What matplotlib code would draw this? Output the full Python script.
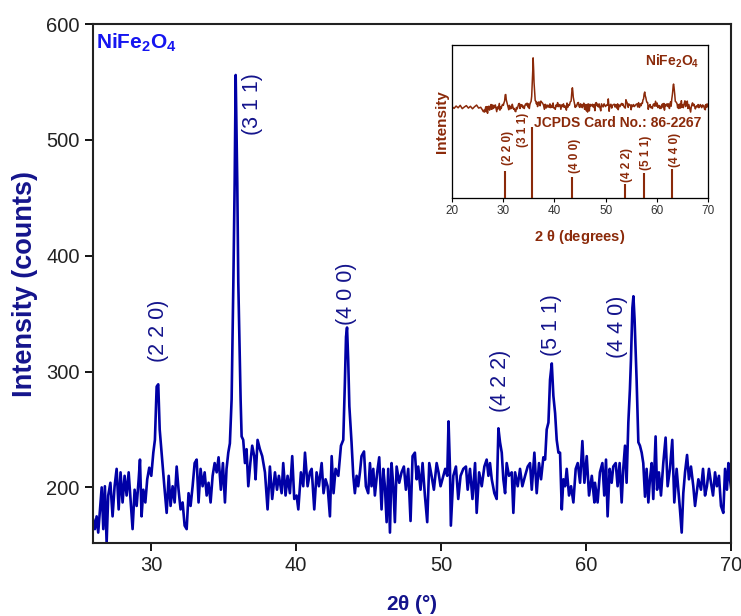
import matplotlib
matplotlib.use("Agg")
import matplotlib.pyplot as plt
import numpy as np

plt.rcParams.update({
    "font.family": ["Liberation Sans", "DejaVu Sans"],
    "mathtext.fontset": "custom",
    "mathtext.rm": "Liberation Sans",
    "mathtext.bf": "Liberation Sans:bold",
})

# XRD trace (2theta in degrees, counts)
two_theta = [
    26.02, 26.13, 26.25, 26.36, 26.48, 26.60, 26.71, 26.82, 26.94, 27.05,
    27.20, 27.35, 27.49, 27.63, 27.77, 27.90, 28.04, 28.18, 28.32, 28.46,
    28.60, 28.73, 28.87, 29.01, 29.15, 29.24, 29.35, 29.47, 29.61, 29.74,
    29.88, 30.02, 30.16, 30.27, 30.39, 30.50, 30.60, 30.69, 30.80, 30.92,
    31.08, 31.22, 31.35, 31.49, 31.63, 31.77, 31.90, 32.04, 32.18, 32.32,
    32.46, 32.59, 32.73, 32.87, 33.01, 33.15, 33.28, 33.42, 33.56, 33.70,
    33.84, 33.97, 34.11, 34.25, 34.39, 34.53, 34.66, 34.82, 34.96, 35.10,
    35.21, 35.33, 35.44, 35.56, 35.68, 35.77, 35.84, 35.95, 36.02, 36.18,
    36.25, 36.36, 36.48, 36.59, 36.71, 36.85, 36.98, 37.12, 37.21, 37.35,
    37.51, 37.67, 37.86, 38.04, 38.20, 38.36, 38.55, 38.69, 38.82, 39.01,
    39.12, 39.28, 39.42, 39.58, 39.74, 39.88, 40.04, 40.16, 40.34, 40.50,
    40.62, 40.80, 40.96, 41.08, 41.26, 41.42, 41.58, 41.77, 41.90, 42.04,
    42.18, 42.34, 42.46, 42.59, 42.73, 42.92, 43.10, 43.26, 43.37, 43.45,
    43.52, 43.60, 43.68, 43.83, 43.95, 44.06, 44.18, 44.29, 44.41, 44.52,
    44.69, 44.82, 44.98, 45.10, 45.21, 45.33, 45.44, 45.60, 45.74, 45.90,
    46.02, 46.13, 46.25, 46.36, 46.48, 46.59, 46.71, 46.82, 46.94, 47.12,
    47.28, 47.44, 47.58, 47.74, 47.90, 48.04, 48.20, 48.32, 48.43, 48.59,
    48.73, 48.89, 49.05, 49.19, 49.35, 49.51, 49.70, 49.83, 49.97, 50.16,
    50.29, 50.43, 50.52, 50.62, 50.68, 50.85, 51.03, 51.19, 51.35, 51.54,
    51.72, 51.84, 52.00, 52.17, 52.35, 52.46, 52.63, 52.81, 52.99, 53.15,
    53.27, 53.38, 53.50, 53.68, 53.84, 53.96, 54.07, 54.19, 54.30, 54.42,
    54.53, 54.69, 54.88, 54.99, 55.11, 55.29, 55.45, 55.61, 55.80, 55.98,
    56.14, 56.26, 56.44, 56.60, 56.76, 56.90, 57.06, 57.18, 57.29, 57.41,
    57.52, 57.64, 57.75, 57.87, 57.98, 58.10, 58.21, 58.33, 58.44, 58.56,
    58.67, 58.83, 58.97, 59.13, 59.29, 59.43, 59.59, 59.75, 59.89, 60.05,
    60.21, 60.40, 60.58, 60.62, 60.80, 60.96, 61.13, 61.26, 61.38, 61.49,
    61.63, 61.77, 61.88, 62.05, 62.18, 62.32, 62.46, 62.57, 62.69, 62.80,
    62.92, 63.03, 63.10, 63.20, 63.27, 63.35, 63.49, 63.61, 63.72, 63.84,
    63.95, 64.07, 64.18, 64.30, 64.41, 64.53, 64.64, 64.80, 64.90, 65.03,
    65.17, 65.33, 65.49, 65.63, 65.79, 65.95, 66.09, 66.25, 66.37, 66.48,
    66.60, 66.71, 66.83, 66.97, 67.10, 67.24, 67.40, 67.52, 67.63, 67.75,
    67.93, 68.07, 68.21, 68.34, 68.48, 68.62, 68.76, 68.90, 69.03, 69.17,
    69.31, 69.47, 69.59, 69.72, 69.82, 69.93, 70.00,
]
counts = [
    172, 164, 175, 161, 181, 200, 164, 201, 152, 193,
    204, 175, 201, 216, 181, 213, 187, 210, 193, 213,
    187, 164, 198, 184, 207, 224, 175, 198, 187, 207,
    217, 210, 230, 241, 287, 289, 250, 236, 218, 201,
    178, 210, 184, 201, 187, 218, 198, 181, 187, 167,
    164, 195, 184, 201, 221, 224, 187, 216, 201, 213,
    193, 204, 187, 210, 221, 213, 226, 198, 221, 187,
    216, 230, 238, 276, 377, 463, 556, 463, 377, 276,
    244, 241, 221, 233, 201, 221, 236, 227, 207, 241,
    233, 227, 213, 181, 218, 190, 213, 198, 210, 195,
    221, 193, 210, 195, 227, 190, 193, 181, 213, 201,
    230, 201, 213, 216, 181, 213, 201, 221, 195, 207,
    201, 175, 227, 195, 216, 210, 236, 241, 290, 330,
    338, 310, 270, 239, 210, 195, 210, 201, 213, 227,
    231, 201, 195, 221, 201, 216, 193, 213, 226, 181,
    216, 201, 170, 216, 161, 221, 201, 170, 218, 204,
    213, 218, 198, 216, 171, 227, 230, 207, 218, 198,
    221, 193, 170, 221, 210, 198, 221, 213, 201, 210,
    216, 210, 257, 216, 167, 210, 218, 190, 210, 216,
    218, 198, 216, 190, 221, 178, 213, 201, 218, 224,
    210, 221, 207, 195, 190, 251, 239, 230, 207, 195,
    221, 210, 213, 178, 213, 201, 216, 201, 210, 218,
    221, 198, 230, 195, 221, 207, 226, 224, 250, 256,
    293, 307, 279, 264, 241, 230, 230, 181, 207, 201,
    216, 193, 201, 187, 216, 221, 204, 240, 204, 227,
    193, 210, 187, 204, 187, 213, 221, 193, 224, 175,
    216, 204, 218, 221, 201, 221, 187, 216, 236, 204,
    256, 285, 310, 355, 365, 345, 293, 239, 236, 230,
    221, 192, 216, 187, 207, 221, 190, 244, 198, 213,
    193, 221, 243, 201, 216, 241, 187, 216, 198, 181,
    161, 195, 213, 228, 207, 218, 201, 184, 195, 207,
    198, 216, 193, 201, 216, 204, 193, 213, 201, 210,
    184, 178, 216, 198, 221, 207, 200,
]

# inset: the low-angle part of the scan shown only in the inset
inset_low_theta = [20.0, 20.4, 20.8, 21.2, 21.6, 22.0, 22.4, 22.8, 23.2, 23.6,
                   24.0, 24.4, 24.8, 25.2, 25.6]
inset_low_counts = [200, 188, 205, 192, 210, 186, 198, 208, 190, 203,
                    185, 200, 212, 190, 196]

# main-panel peak labels: (hkl, 2theta, counts at label foot)
peak_labels = ["(2 2 0)", "(3 1 1)", "(4 0 0)", "(4 2 2)", "(5 1 1)", "(4 4 0)"]
label_theta = [30.5, 37.0, 43.45, 54.1, 57.6, 62.2]
label_counts = [308, 504, 340, 265, 313, 312]

# JCPDS 86-2267 reference lines (relative intensity)
ref_theta = [30.3, 35.7, 43.4, 53.8, 57.4, 63.0]
ref_intensity = [38, 100, 30, 20, 35, 41]
ref_label_theta = [30.9, 33.9, 44.0, 54.2, 57.8, 63.6]
ref_label_level = [46, 72, 35, 22, 39, 44]

blue = "#0000A6"
navy = "#14148C"
brown = "#8B2A0A"

fig = plt.figure(figsize=(7.41, 6.16), dpi=100)
ax = fig.add_axes([0.1255, 0.1185, 0.861, 0.8425])
ax.plot(two_theta, counts, color=blue, linewidth=1.9)
ax.set_xlim(26, 70)
ax.set_ylim(152, 600)
ax.set_xticks([30, 40, 50, 60, 70])
ax.set_yticks([200, 300, 400, 500, 600])
ax.tick_params(axis="both", direction="out", length=6, width=1.3, labelsize=14.5,
               labelcolor="#222222", top=False, right=False)
for side in ax.spines.values():
    side.set_linewidth(1.5)
    side.set_color("#222222")
ax.set_ylabel("Intensity (counts)", fontsize=19.5, fontweight="bold", color=navy, labelpad=6)
ax.set_xlabel(r"2$\mathbf{\theta}$ (°)", fontsize=15, fontweight="bold", color=navy, labelpad=13)
ax.text(0.004, 0.985, r"NiFe$_\mathbf{2}$O$_\mathbf{4}$", transform=ax.transAxes,
        fontsize=15, fontweight="bold", color="#1515F0", ha="left", va="top")
for text, x, y in zip(peak_labels, label_theta, label_counts):
    ax.text(x, y, text, rotation=90, ha="center", va="bottom", fontsize=15.5, color=navy)

# inset
ins = fig.add_axes([0.610, 0.6786, 0.3455, 0.2484])
ins.plot(inset_low_theta + two_theta, inset_low_counts + counts, color=brown, linewidth=1.1)
ins.set_xlim(20, 70)
ins.set_ylim(-465, 650)
ins.set_yticks([])
ins.set_xticks([20, 30, 40, 50, 60, 70])
ins.tick_params(axis="x", direction="out", length=3, width=0.8, labelsize=8.5,
                labelcolor="#333333", pad=2)
for side in ins.spines.values():
    side.set_linewidth(0.9)
    side.set_color("#444444")
ins.set_xlabel(r"2 $\mathbf{\theta}$ (degrees)", fontsize=10.5, fontweight="bold", color=brown, labelpad=8)
ins.set_ylabel("Intensity", fontsize=11, fontweight="bold", color=brown, labelpad=2)

ref = ins.twinx()
ref.set_ylim(0, 215)
ref.set_yticks([])
ref.vlines(ref_theta, 0, ref_intensity, color=brown, linewidth=1.5)
for text, x, y in zip(peak_labels, ref_label_theta, ref_label_level):
    ref.text(x, y, text, rotation=90, ha="center", va="bottom", fontsize=8.5,
             fontweight="bold", color=brown)
ref.text(0.648, 0.49, "JCPDS Card No.: 86-2267", transform=ref.transAxes,
         ha="center", va="center", fontsize=10, fontweight="bold", color=brown)
ref.text(0.965, 0.89, r"NiFe$_\mathbf{2}$O$_\mathbf{4}$", transform=ref.transAxes,
         ha="right", va="center", fontsize=10, fontweight="bold", color=brown)

fig.savefig("out.png", dpi=100)
